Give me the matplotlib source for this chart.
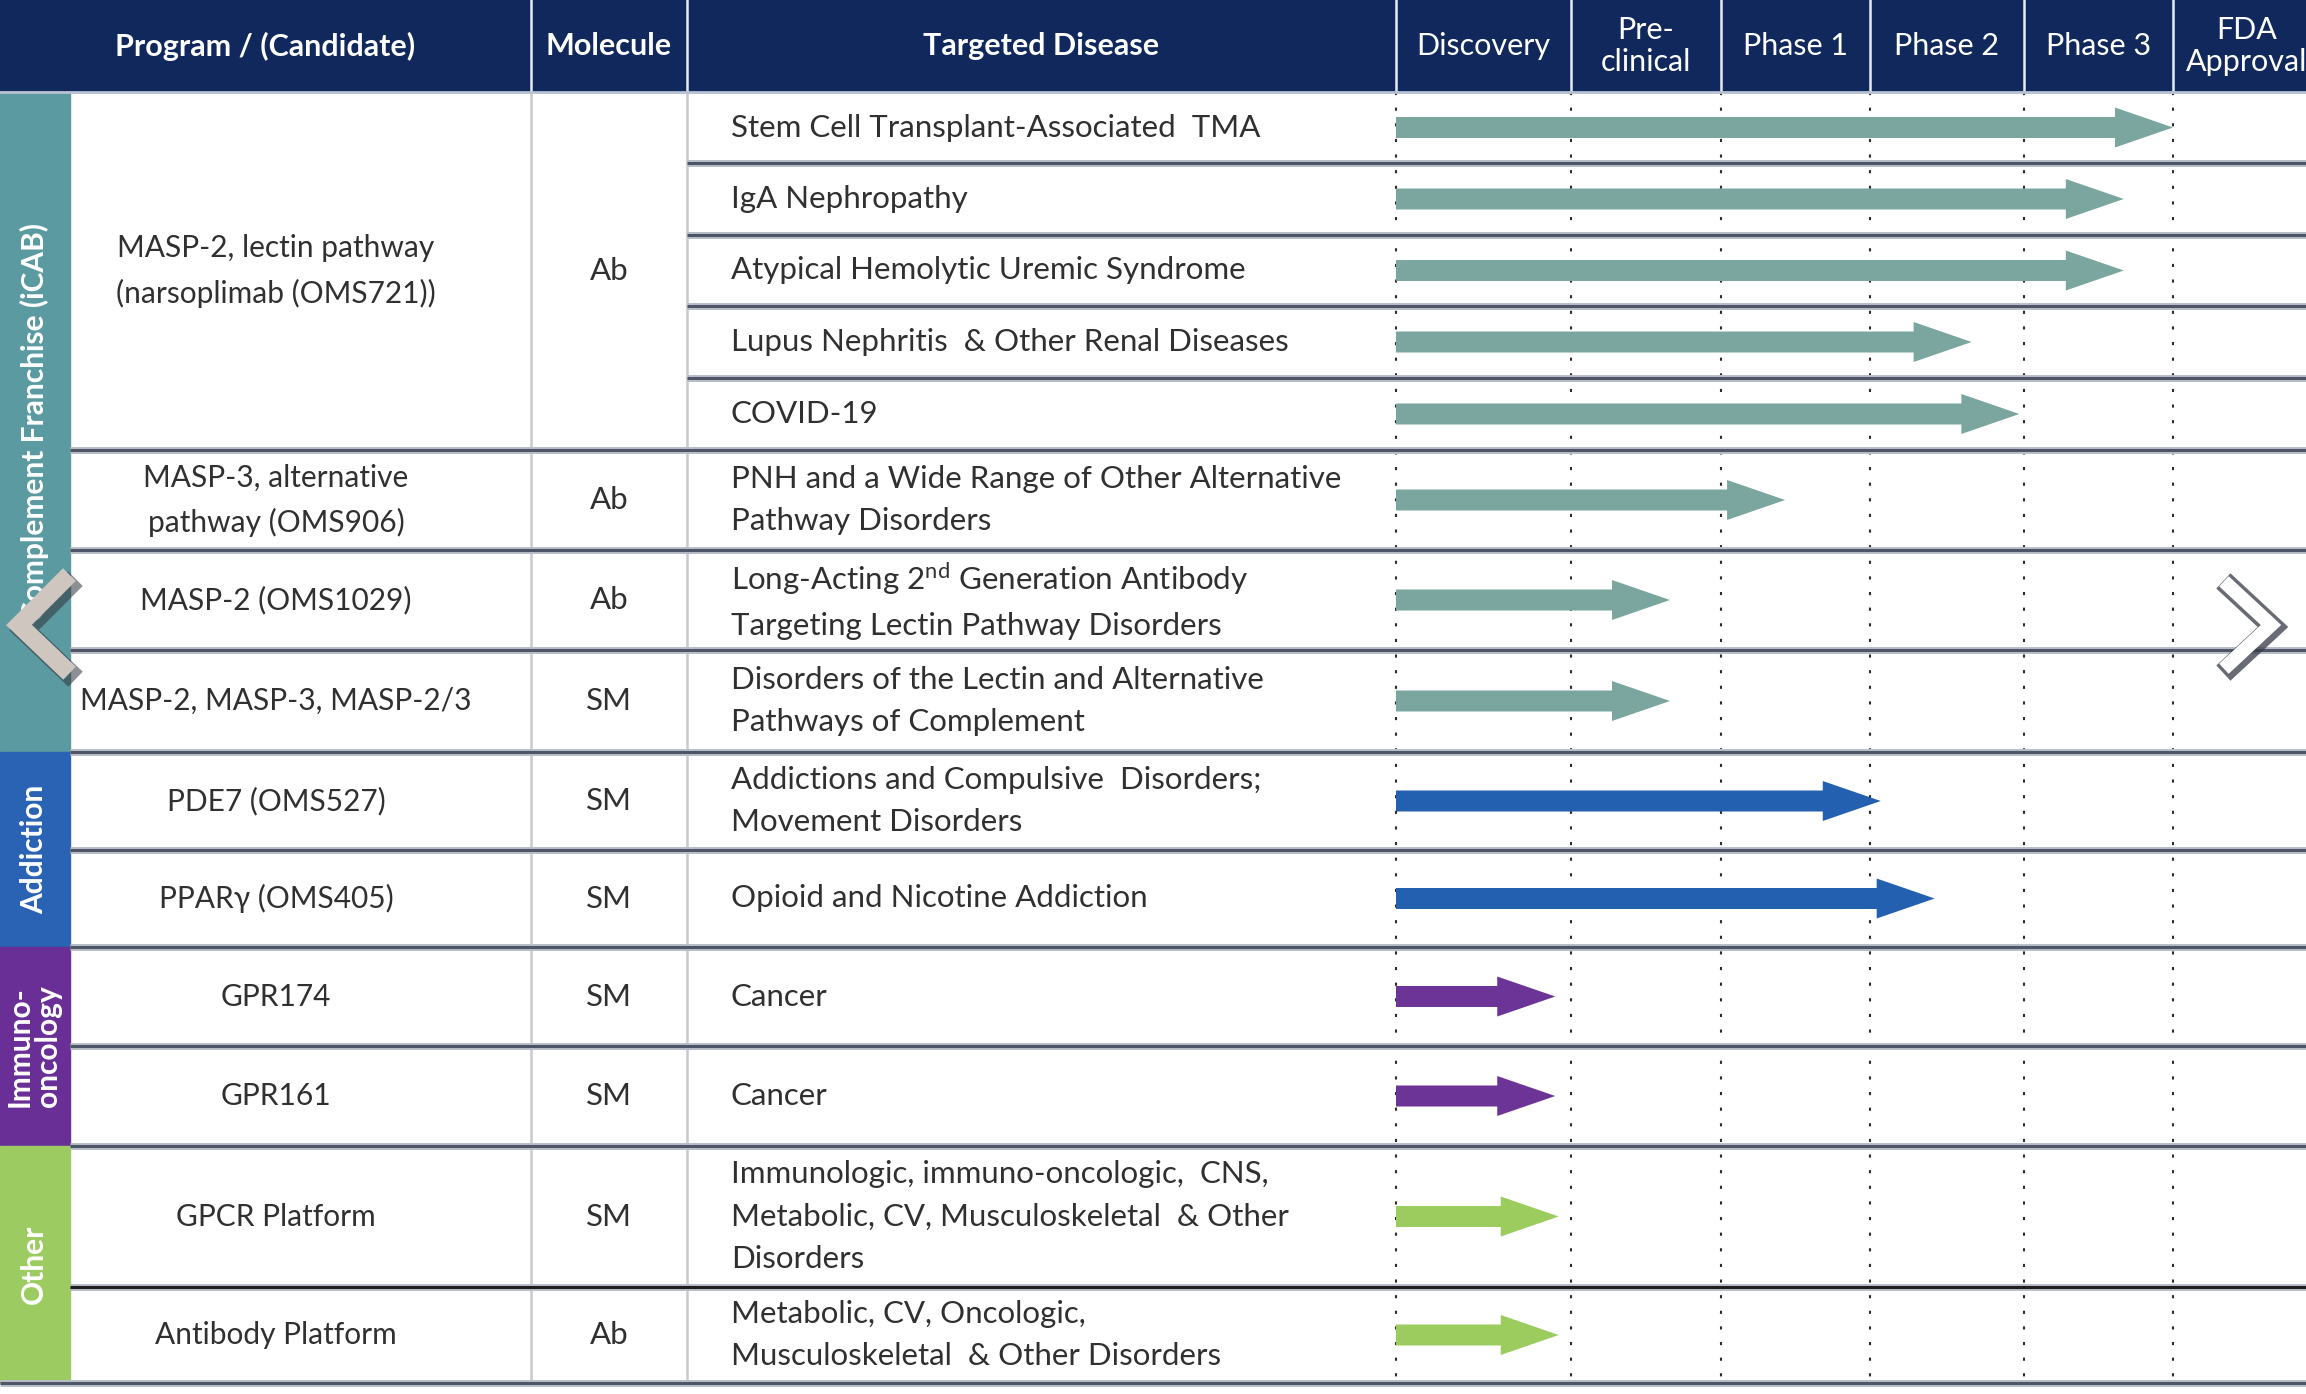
import numpy as np
import matplotlib.pyplot as plt
from matplotlib.patches import Rectangle, FancyArrow

plt.rcParams['font.family'] = ['Lato', 'DejaVu Sans']
plt.rcParams['mathtext.fontset'] = 'custom'
plt.rcParams['mathtext.rm'] = 'Lato'

# ---- data ----
stages = ["Discovery", "Pre-\nclinical", "Phase 1", "Phase 2", "Phase 3", "FDA\nApproval"]

franchises = ["Complement Franchise (iCAB)", "Addiction", "Immuno-\noncology", "Other"]
franchise_colors = ["#5B9AA1", "#2A63B4", "#6A2E97", "#9CCB62"]
arrow_colors = ["#7AA69F", "#2460B0", "#6B3496", "#9CCB5E"]

programs = ["MASP-2, lectin pathway\n(narsoplimab (OMS721))",
            "MASP-3, alternative\npathway (OMS906)",
            "MASP-2 (OMS1029)",
            "MASP-2, MASP-3, MASP-2/3",
            "PDE7 (OMS527)",
            "PPARγ (OMS405)",
            "GPR174",
            "GPR161",
            "GPCR Platform",
            "Antibody Platform"]
molecules = ["Ab", "Ab", "Ab", "SM", "SM", "SM", "SM", "SM", "SM", "Ab"]
program_franchise = [0, 0, 0, 0, 1, 1, 2, 2, 3, 3]

diseases = ["Stem Cell Transplant-Associated  TMA",
            "IgA Nephropathy",
            "Atypical Hemolytic Uremic Syndrome",
            "Lupus Nephritis  & Other Renal Diseases",
            "COVID-19",
            "PNH and a Wide Range of Other Alternative\nPathway Disorders",
            "Long-Acting 2$^{\\mathregular{nd}}$ Generation Antibody\nTargeting Lectin Pathway Disorders",
            "Disorders of the Lectin and Alternative\nPathways of Complement",
            "Addictions and Compulsive  Disorders;\nMovement Disorders",
            "Opioid and Nicotine Addiction",
            "Cancer",
            "Cancer",
            "Immunologic, immuno-oncologic,  CNS,\nMetabolic, CV, Musculoskeletal  & Other\nDisorders",
            "Metabolic, CV, Oncologic,\nMusculoskeletal  & Other Disorders"]
disease_program = [0, 0, 0, 0, 0, 1, 2, 3, 4, 5, 6, 7, 8, 9]
# progress in stage units (0 = start of Discovery, 5 = end of Phase 3)
progress = [5.0, 4.67, 4.67, 3.66, 3.97, 2.43, 1.66, 1.66, 3.07, 3.42, 0.91, 0.91, 0.93, 0.93]

# ---- layout (pixels) ----
W, H = 2306, 1394
header_h = 92
band_w = 70
col_mol, col_dis = 531, 687
stage_edges = [1396, 1571, 1721, 1870, 2024, 2173, 2321]
row_edges = [92, 163, 235, 306, 378, 450, 550, 650, 752, 850, 947, 1046, 1146, 1287, 1383]

navy = "#10285B"
txt = "#303030"
fs = 22.5
ls = 1.62

fig = plt.figure(figsize=(W / 100, H / 100), dpi=100)
ax = fig.add_axes([0, 0, 1, 1])
ax.set_xlim(0, W)
ax.set_ylim(H, 0)
ax.axis('off')

# header
ax.add_patch(Rectangle((0, 0), W, header_h, color=navy, zorder=1))
head_y = header_h / 2
ax.text(col_mol / 2, head_y, "Program / (Candidate)", color='white', fontsize=22,
        fontweight='bold', ha='center', va='center', zorder=5)
ax.text((col_mol + col_dis) / 2, head_y, "Molecule", color='white', fontsize=22,
        fontweight='bold', ha='center', va='center', zorder=5)
ax.text((col_dis + stage_edges[0]) / 2, head_y, "Targeted Disease", color='white', fontsize=22,
        fontweight='bold', ha='center', va='center', zorder=5)
for i, s in enumerate(stages):
    ax.text((stage_edges[i] + stage_edges[i + 1]) / 2, head_y, s, color='white', fontsize=22,
            ha='center', va='center', linespacing=1.2, zorder=5)
for x in [col_mol, col_dis] + stage_edges[:-1]:
    ax.plot([x, x], [0, header_h], color='#E8ECF2', lw=1.8, zorder=2)

# body vertical lines
for x in [col_mol, col_dis]:
    ax.plot([x, x], [header_h, row_edges[-1]], color='#C9C9C9', lw=1.8, zorder=2)
for x in stage_edges[:-1]:
    ax.plot([x, x], [header_h, row_edges[-1]], color='#2B2B2B', lw=1.5,
            linestyle=(0, (1.5, 6)), zorder=2)

# program row spans from disease rows
prog_top = {}
prog_bot = {}
for r, p in enumerate(disease_program):
    prog_top.setdefault(p, row_edges[r])
    prog_bot[p] = row_edges[r + 1]

# franchise bands
for f, name in enumerate(franchises):
    ps = [p for p in range(len(programs)) if program_franchise[p] == f]
    top, bot = prog_top[ps[0]], prog_bot[ps[-1]]
    ax.add_patch(Rectangle((0, top), band_w, bot - top, color=franchise_colors[f], zorder=1))
    ax.text(band_w / 2 - 1, (top + bot) / 2, name, color='white', fontsize=21.5, fontweight='bold',
            rotation=90, ha='center', va='center', linespacing=1.0, zorder=5)

# horizontal lines
for r in range(1, len(row_edges)):
    y = row_edges[r]
    same_prog = r < len(disease_program) and disease_program[r] == disease_program[r - 1]
    x0 = col_dis if same_prog else band_w
    if r == len(row_edges) - 1:
        x0 = 0
    col = '#1E1E1E' if r == 13 else '#4D5566'
    ax.plot([x0, W], [y, y], color='#B8BEC8', lw=5, zorder=3, solid_capstyle='butt')
    ax.plot([x0, W], [y, y], color=col, lw=2.2, zorder=3, solid_capstyle='butt')
ax.plot([0, W], [header_h, header_h], color='#B8C2D2', lw=2, zorder=3)

# program and molecule text
for p in range(len(programs)):
    yc = (prog_top[p] + prog_bot[p]) / 2
    ax.text(276, yc, programs[p], color=txt, fontsize=21.5, ha='center', va='center',
            linespacing=ls + 0.05, zorder=5)
    ax.text((col_mol + col_dis) / 2, yc, molecules[p], color=txt, fontsize=fs,
            ha='center', va='center', zorder=5)

# disease text and arrows
def stage_x(v):
    return np.interp(v, np.arange(len(stage_edges)), stage_edges)

for r, d in enumerate(diseases):
    yc = (row_edges[r] + row_edges[r + 1]) / 2
    ax.text(731, yc, d, color=txt, fontsize=fs, ha='left', va='center',
            linespacing=ls, zorder=5)
    f = program_franchise[disease_program[r]]
    x0 = stage_edges[0]
    x1 = stage_x(progress[r])
    ax.add_patch(FancyArrow(x0, yc, x1 - x0, 0, width=21, head_width=40, head_length=58,
                            length_includes_head=True, color=arrow_colors[f], lw=0, zorder=4))

# carousel chevrons overlaid on the screenshot
ax.plot([68, 24, 68], [586, 630, 672], color='#2E333C', lw=15, alpha=0.55,
        solid_joinstyle='miter', zorder=6)
ax.plot([63, 19, 63], [581, 625, 667], color='#CFC6BF', lw=13,
        solid_joinstyle='miter', zorder=7)
ax.plot([2231, 2273, 2231], [588, 627, 666], color='#353A44', lw=15, alpha=0.75,
        solid_joinstyle='miter', zorder=6)
ax.plot([2229, 2271, 2229], [586, 625, 664], color='white', lw=10,
        solid_joinstyle='miter', zorder=7)

fig.savefig("out.png", dpi=100, facecolor='white')
